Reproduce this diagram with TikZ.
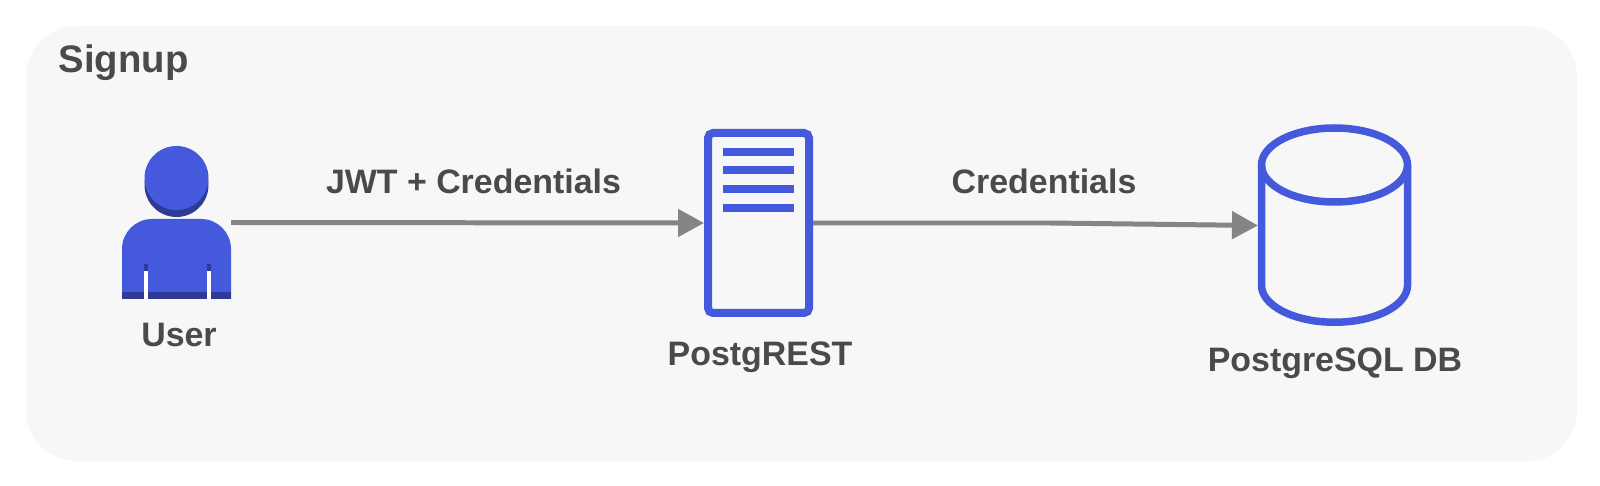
\documentclass[tikz,border=0pt]{standalone}
\usepackage{fontspec}
\setmainfont{Liberation Sans}
\usetikzlibrary{arrows.meta, calc}
\definecolor{panelgray}{HTML}{F7F7F7}
\definecolor{iconblue}{HTML}{4559DC}
\definecolor{icondark}{HTML}{2F3A96}
\definecolor{flowgray}{HTML}{858585}
\definecolor{labelgray}{HTML}{4A4A4A}
\tikzset{
  label text/.style={text=labelgray, font=\bfseries\fontsize{9.65}{11.5}\selectfont, inner sep=0pt, anchor=base},
  title text/.style={text=labelgray, font=\bfseries\fontsize{10.9}{13}\selectfont, inner sep=0pt, anchor=base west},
  flow/.style={draw=flowgray, line width=1.42pt, -{Triangle[length=0.26cm, width=0.27cm, fill=flowgray]}},
  serverbox/.style={draw=iconblue, line width=0.08cm, rounded corners=0.05cm, fill=panelgray, minimum width=1.01cm, minimum height=1.80cm, inner sep=0pt},
  serverline/.style={draw=iconblue, line width=0.08cm},
  dbline/.style={draw=iconblue, line width=0.075cm},
}
\begin{document}
\begin{tikzpicture}
	\def\Rx{0.73}  % Cylinder radii
	\def\Ry{0.37}
	\useasboundingbox (0,0) rectangle (16,4.85);
	
	% Panel
	\fill[panelgray, rounded corners=0.5cm] (0.26,0.24) rectangle (15.77,4.59);
	\node[title text] (title) at (0.58,4.12) {Signup};
	
	% User
	\node[minimum width=1.09cm, minimum height=1.53cm, inner sep=0pt, outer sep=0pt] (user) at (1.765,2.625) {};
	\fill[icondark] (1.765,3.0) circle (0.32);
	\fill[iconblue] (1.765,3.07) circle (0.32);
	\fill[iconblue] (1.22,1.86) -- (1.22,2.36) arc[start angle=180, end angle=90, radius=0.3] -- (2.01,2.66) arc[start angle=90, end angle=0, radius=0.3] -- (2.31,1.86) -- cycle;
	\fill[icondark] (1.22,1.86) rectangle (2.31,1.93);
	\fill[icondark] (1.44,2.14) rectangle (1.477,2.21);
	\fill[icondark] (2.07,2.14) rectangle (2.107,2.21);
	\fill[white] (1.44,1.86) rectangle (1.477,2.14);
	\fill[white] (2.07,1.86) rectangle (2.107,2.14);
	\node[label text] (userlabel) at (1.79,1.38) {User};
	
	% PostgREST
	\node[serverbox] (server) at (7.585,2.62) {};
	\foreach \y in {3.33,3.145,2.955,2.77}
		\draw[serverline] (7.233,\y) -- (7.943,\y);
	\node[label text] (serverlabel) at (7.6,1.2) {PostgREST};
	
	% PostgreSQL DB
	\node[minimum width=1.53cm, minimum height=2.01cm, inner sep=0pt, outer sep=0pt] (db) at (13.345,2.595) {};
	\draw[dbline] (13.345-\Rx,3.2) -- (13.345-\Rx,1.9975) arc[start angle=180, end angle=360, x radius=\Rx, y radius=\Ry] -- (13.345+\Rx,3.2);
	\draw[dbline] (13.345,3.2) ellipse[x radius=\Rx, y radius=\Ry];
	\node[label text] (dblabel) at (13.35,1.14) {PostgreSQL DB};
	
	% Connectors
	\coordinate (bend) at (10.5,2.62);
	\draw[flow] (user.east) -- (server.west);
	\draw[flow] (server.east) -- (bend) -- (db.west);
	\node[label text] (jwtlabel) at (4.735,2.91) {JWT + Credentials};
	\node[label text] (credlabel) at (10.44,2.91) {Credentials};
\end{tikzpicture}
\end{document}
